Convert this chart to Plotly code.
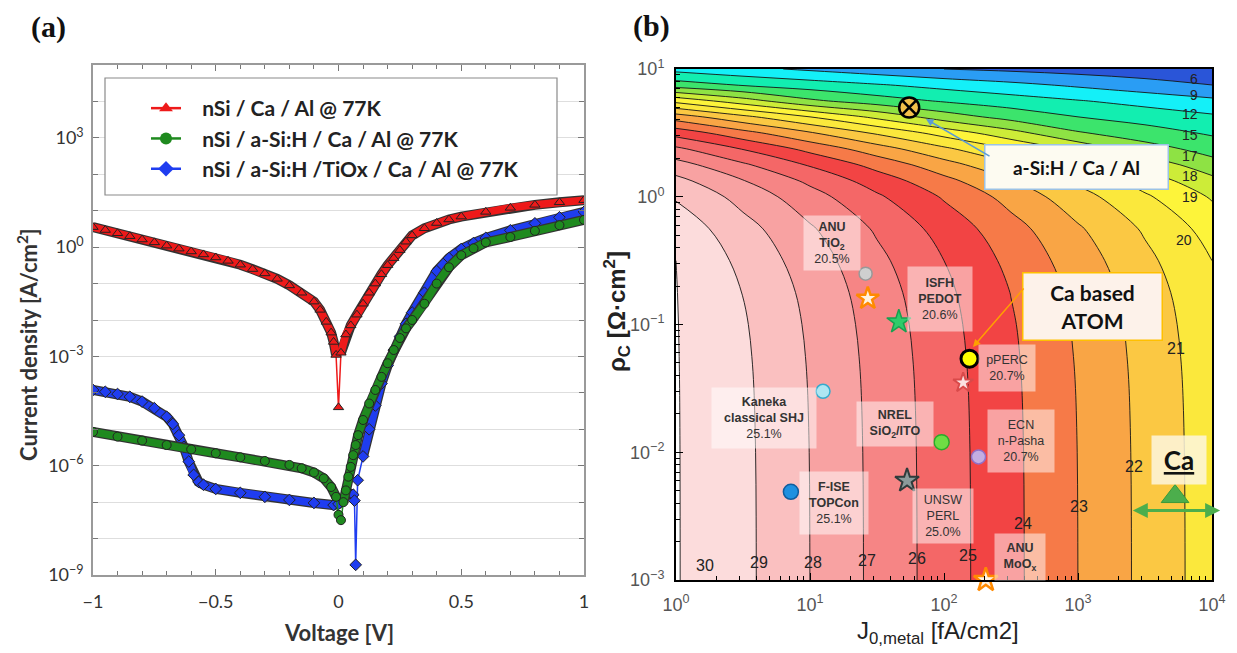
import numpy as np
import plotly.graph_objects as go

W, H = 1237, 653


def px(x):
    return x / W


def py(y):
    return 1 - y / H


# ---------------- Panel (a): J-V curves at 77 K ----------------
red_v = [-1.0, -0.95, -0.9, -0.85, -0.8, -0.75, -0.7, -0.65, -0.6, -0.55,
         -0.5, -0.45, -0.4, -0.35, -0.3, -0.25, -0.2, -0.15, -0.1, -0.075,
         -0.05, -0.03, -0.02, -0.01, 0.0, 0.01, 0.03, 0.05, 0.075, 0.1,
         0.125, 0.15, 0.175, 0.2, 0.225, 0.25, 0.275, 0.3, 0.35, 0.4,
         0.45, 0.5, 0.6, 0.7, 0.8, 0.9, 1.0]
red_j = [3.55, 2.95, 2.40, 2.0, 1.62, 1.35, 1.10, 0.91, 0.76, 0.63,
         0.52, 0.42, 0.33, 0.25, 0.19, 0.135, 0.089, 0.056, 0.032, 0.019,
         0.0089, 0.0045, 0.0025, 0.0011, 4.0e-5, 1.26e-3, 4.0e-3, 7.1e-3, 0.014, 0.028,
         0.056, 0.10, 0.18, 0.32, 0.50, 0.83, 1.41, 2.1, 3.3, 4.6,
         5.75, 6.9, 9.3, 12.0, 14.5, 17.0, 19.5]
red_dip_v = [0.0]

green_v = [-1.0, -0.9, -0.8, -0.7, -0.6, -0.5, -0.4, -0.3, -0.2, -0.15,
           -0.1, -0.06, -0.03, -0.01, 0.0, 0.01, 0.02, 0.03, 0.04, 0.05,
           0.06, 0.07, 0.08, 0.1, 0.125, 0.15, 0.175, 0.2, 0.225, 0.25,
           0.275, 0.3, 0.35, 0.4, 0.45, 0.5, 0.55, 0.6, 0.7, 0.8, 0.9, 1.0]
green_j = [8.5e-6, 6.3e-6, 4.9e-6, 3.7e-6, 2.8e-6, 2.2e-6, 1.7e-6, 1.35e-6, 1.05e-6, 8.5e-7,
           6.5e-7, 4.5e-7, 2.6e-7, 1.4e-7, 4.5e-8, 3.2e-8, 1.0e-7, 2.1e-7, 5.0e-7, 9.3e-7,
           1.95e-6, 3.7e-6, 6.9e-6, 1.8e-5, 5.1e-5, 1.2e-4, 2.75e-4, 6.5e-4, 1.5e-3, 3.2e-3,
           5.9e-3, 0.01, 0.028, 0.10, 0.28, 0.60, 0.93, 1.35, 1.9, 2.8, 4.0, 5.6]
green_dip_v = [0.0, 0.01]

blue_v = [-1.0, -0.95, -0.9, -0.85, -0.8, -0.75, -0.7, -0.675, -0.65, -0.63,
          -0.61, -0.59, -0.57, -0.55, -0.5, -0.4, -0.3, -0.2, -0.1, -0.02,
          0.0, 0.02, 0.04, 0.06, 0.065, 0.07, 0.078, 0.1, 0.125, 0.15,
          0.175, 0.2, 0.225, 0.25, 0.275, 0.3, 0.35, 0.4, 0.45, 0.5,
          0.55, 0.6, 0.7, 0.8, 0.9, 1.0]
blue_j = [1.2e-4, 1.07e-4, 9.3e-5, 7.8e-5, 5.75e-5, 3.8e-5, 2.2e-5, 1.4e-5, 6.9e-6, 3.3e-6,
          1.3e-6, 5.6e-7, 3.6e-7, 3.0e-7, 2.3e-7, 1.8e-7, 1.4e-7, 1.15e-7, 9.5e-8, 8.3e-8,
          8.9e-8, 1.26e-7, 1.8e-7, 1.6e-7, 1.1e-7, 1.9e-9, 4.0e-7, 1.8e-6, 1.0e-5, 4.5e-5,
          1.8e-4, 5.6e-4, 1.5e-3, 3.5e-3, 7.9e-3, 0.016, 0.056, 0.22, 0.5, 0.89,
          1.3, 1.8, 2.9, 4.5, 6.6, 9.3]
blue_dip_v = [0.065, 0.07, 0.078]

series_names = ["nSi / Ca / Al @ 77K",
                "nSi / a-Si:H / Ca / Al @ 77K",
                "nSi / a-Si:H /TiOx / Ca / Al @ 77K"]

# ---------------- Panel (b): efficiency map ----------------
j0_nodes = [1, 3.162, 10, 31.62, 100, 316.2, 1000, 3162, 10000]          # fA/cm2
e0_at_j0 = [30.5, 29.25, 28.0, 26.75, 25.5, 24.25, 23.0, 21.75, 20.5]      # % at negligible rho_c
rho_nodes = [0.001, 0.00316, 0.01, 0.0316, 0.0562, 0.1, 0.178, 0.316, 0.562,
             1.0, 1.33, 1.78, 2.37, 3.16, 4.22, 5.62, 7.5, 10.0]           # Ohm cm2
loss_at_rho = [0.002, 0.005, 0.015, 0.047, 0.085, 0.15, 0.27, 0.5, 0.88,
               1.6, 2.2, 3.1, 4.3, 5.9, 8.0, 10.8, 14.5, 19.5]             # % abs. loss
eff_levels = [6, 9, 12, 15, 17, 18, 19, 20, 21, 22, 23, 24, 25, 26, 27, 28, 29, 30]

pt_j0 = [55, 26, 27, 46, 155, 139, 12.5, 96, 181, 53, 7.2, 205, 5300]
pt_rho = [5.0, 0.25, 0.16, 0.105, 0.054, 0.035, 0.030, 0.012, 0.0092, 0.006, 0.0049, 0.001, 0.0045]
ca_j0_span = [2500, 11500]
ca_rho = 0.0035

# ---------------- styles ----------------
series_style = [
    dict(color="#ee1a1a", symbol="triangle-up"),
    dict(color="#1f8a1f", symbol="circle"),
    dict(color="#1f3df0", symbol="diamond"),
]
band_colors = ["#2a55d8", "#2a9df4", "#14f0f8", "#12eeb0", "#3ce46c", "#8ee244",
               "#cdec38", "#fdf43a", "#fbe83c", "#fbc843", "#f9a545", "#f67a48",
               "#f24444", "#f46767", "#f68585", "#f8a2a2", "#fac0c0", "#fcdcdc", "#ffffff"]
pt_style = [
    dict(symbol="circle-x", size=20, color="#f3c04a", line=dict(color="black", width=2.5)),
    dict(symbol="circle", size=13, color="#cfcfcf", line=dict(color="#999999", width=1.5)),
    dict(symbol="star", size=17, color="#fff2e0", line=dict(color="#ff8a00", width=2.5)),
    dict(symbol="star", size=18, color="#2fcc6a", line=dict(color="#18a050", width=1.5)),
    dict(symbol="circle", size=17, color="#ffff00", line=dict(color="black", width=3)),
    dict(symbol="star", size=15, color="#fbe0e0", line=dict(color="#d94a4a", width=2)),
    dict(symbol="circle", size=14, color="#aee6f2", line=dict(color="#35aacc", width=1.5)),
    dict(symbol="circle", size=15, color="#6fdd44", line=dict(color="#2aaa2a", width=1.5)),
    dict(symbol="circle", size=14, color="#c4ade2", line=dict(color="#9070c8", width=1.5)),
    dict(symbol="star", size=18, color="#8b9a9a", line=dict(color="#2f3b3b", width=2)),
    dict(symbol="circle", size=15, color="#1e90e0", line=dict(color="#105d9e", width=1.5)),
    dict(symbol="star", size=18, color="#fff2e0", line=dict(color="#ff8a00", width=2.5)),
    dict(symbol="triangle-up", size=24, color="#4cae4c", line=dict(color="#3a9a3a", width=1)),
]

fig = go.Figure()

# legend entries (panel a)
pad = "\u00a0\u00a0\u00a0"
for name, st in zip(series_names, series_style):
    fig.add_trace(go.Scatter(
        x=[None], y=[None], mode="lines+markers", name=pad + "<b>" + name + "</b>",
        legendgroup=name, line=dict(color=st["color"], width=2.5),
        marker=dict(symbol=st["symbol"], size=12, color=st["color"]),
        xaxis="x", yaxis="y"))

data_a = [(red_v, red_j, red_dip_v), (green_v, green_j, green_dip_v), (blue_v, blue_j, blue_dip_v)]
draw_order = [0, 2, 1]
for k in draw_order:
    v, j, dip = data_a[k]
    st = series_style[k]
    band_j = [None if vv in dip else jj for vv, jj in zip(v, j)]
    common = dict(xaxis="x", yaxis="y", showlegend=False, hoverinfo="skip",
                  legendgroup=series_names[k])
    fig.add_trace(go.Scatter(x=v, y=band_j, mode="lines", connectgaps=False,
                             line=dict(color="#333333", width=10), **common))
    fig.add_trace(go.Scatter(x=v, y=band_j, mode="lines", connectgaps=False,
                             line=dict(color=st["color"], width=7.5), **common))
    fig.add_trace(go.Scatter(x=v, y=j, mode="lines+markers",
                             line=dict(color=st["color"], width=1.5),
                             marker=dict(symbol=st["symbol"], size=9, color=st["color"],
                                         line=dict(color="#222", width=1)),
                             **common))

# efficiency map (panel b)
eff = np.array(e0_at_j0)[None, :] - np.array(loss_at_rho)[:, None]
lev_idx = np.interp(eff, [0] + eff_levels + [40],
                    [-1] + list(range(len(eff_levels))) + [len(eff_levels)])
nb = len(band_colors) - 1
fig.add_trace(go.Contour(
    x=j0_nodes, y=rho_nodes, z=lev_idx, xaxis="x2", yaxis="y2",
    autocontour=False,
    contours=dict(start=0, end=len(eff_levels) - 1, size=1, coloring="fill", showlabels=False),
    colorscale=[[i / nb, c] for i, c in enumerate(band_colors)],
    line=dict(color="#151515", width=0.9, smoothing=1.0),
    showscale=False, hoverinfo="skip", showlegend=False))

for jx, ry, st in zip(pt_j0, pt_rho, pt_style):
    fig.add_trace(go.Scatter(x=[jx], y=[ry], mode="markers", xaxis="x2", yaxis="y2",
                             marker=st, showlegend=False, hoverinfo="skip", cliponaxis=False))

# ---------------- layout ----------------
lato = "Lato, 'Open Sans', sans-serif"
arial = "'Liberation Sans', Arial, sans-serif"
sup = lambda p: "10<sup>" + ("\u2212" if p < 0 else "") + str(abs(p)) + "</sup>"

fig.update_layout(
    width=W, height=H, margin=dict(l=0, r=0, t=0, b=0, autoexpand=False),
    paper_bgcolor="white", plot_bgcolor="white", hovermode=False,
    showlegend=True,
    legend=dict(x=px(146), y=py(88), xanchor="left", yanchor="top",
                bgcolor="rgba(0,0,0,0)", borderwidth=0,
                font=dict(family=lato, size=21, color="#222"),
                traceorder="grouped", tracegroupgap=0),
    xaxis=dict(domain=[px(93), px(584)], range=[-1, 1], automargin=False,
               tickvals=[-1, -0.5, 0, 0.5, 1],
               ticktext=["\u22121", "\u22120.5", "0", "0.5", "1"],
               ticks="inside", ticklen=6, tickcolor="#777",
               minor=dict(dtick=0.1, ticks="inside", ticklen=4, tickcolor="#777"),
               showline=True, linecolor="#9a9a9a", linewidth=1.5, mirror="allticks",
               showgrid=False, zeroline=False, ticklabelstandoff=10,
               tickfont=dict(family=lato, size=18, color="#333")),
    yaxis=dict(domain=[py(575), py(65)], type="log", range=[-9, 5], automargin=False,
               tickvals=[1e-9, 1e-6, 1e-3, 1, 1e3],
               ticktext=[sup(-9), sup(-6), sup(-3), sup(0), sup(3)],
               ticks="inside", ticklen=6, tickcolor="#777",
               minor=dict(tickmode="linear", tick0=0, dtick=1, ticks="inside", ticklen=5,
                          tickcolor="#777", showgrid=True, gridcolor="#dedede", gridwidth=1),
               showgrid=True, gridcolor="#dedede",
               showline=True, linecolor="#9a9a9a", linewidth=1.5, mirror="allticks",
               zeroline=False, ticklabelstandoff=4,
               tickfont=dict(family=lato, size=18, color="#333")),
    xaxis2=dict(domain=[px(676), px(1212)], type="log", range=[0, 4], anchor="y2",
                automargin=False,
                tickvals=[1, 10, 100, 1000, 10000],
                ticktext=[sup(0), sup(1), sup(2), sup(3), sup(4)],
                ticks="inside", ticklen=7, tickcolor="black",
                minor=dict(tickmode="linear", tick0=0, dtick="D1", ticks="inside",
                           ticklen=4, tickcolor="black"),
                showline=True, linecolor="black", linewidth=2, mirror=True,
                showgrid=False, zeroline=False, ticklabelstandoff=7,
                tickfont=dict(family=arial, size=18, color="#555")),
    yaxis2=dict(domain=[py(580), py(69)], type="log", range=[-3, 1], anchor="x2",
                automargin=False,
                tickvals=[1e-3, 1e-2, 1e-1, 1, 10],
                ticktext=[sup(-3), sup(-2), sup(-1), sup(0), sup(1)],
                ticks="inside", ticklen=7, tickcolor="black",
                minor=dict(tickmode="linear", tick0=0, dtick="D1", ticks="inside",
                           ticklen=4, tickcolor="black"),
                showline=True, linecolor="black", linewidth=2, mirror=True,
                showgrid=False, zeroline=False, ticklabelstandoff=6,
                tickfont=dict(family=arial, size=18, color="#555")),
)

# legend frame (panel a)
fig.add_shape(type="rect", xref="paper", yref="paper",
              x0=px(105), x1=px(557), y0=py(195), y1=py(78),
              line=dict(color="#8a8a8a", width=1.2), fillcolor="white", layer="above")

ann = []
# panel labels and axis titles
ann.append(dict(text="<b>(a)</b>", x=px(48), y=py(27), font=dict(family="'Liberation Serif', serif", size=30, color="#111")))
ann.append(dict(text="<b>(b)</b>", x=px(651), y=py(26), font=dict(family="'Liberation Serif', serif", size=30, color="#111")))
ann.append(dict(text="<b>Voltage [V]</b>", x=px(339), y=py(632), font=dict(family=lato, size=22, color="#333")))
ann.append(dict(text="<b>Current density [A/cm<sup>2</sup>]</b>", x=px(27), y=py(345), textangle=-90,
                font=dict(family=lato, size=22, color="#333")))
ann.append(dict(text="J<sub>0,metal</sub> [fA/cm2]", x=px(938), y=py(632), font=dict(family=arial, size=24, color="#222")))
ann.append(dict(text="<b>\u03c1<sub>C</sub> [\u03a9\u00b7cm<sup>2</sup>]</b>", x=px(617), y=py(312), textangle=-90,
                font=dict(family=arial, size=24, color="#222")))

# contour level labels
lvl_labels = [("6", 1194, 79), ("9", 1194, 95), ("12", 1190, 114), ("15", 1190, 135),
              ("17", 1190, 156), ("18", 1190, 176), ("19", 1190, 197), ("20", 1184, 240),
              ("21", 1176, 348), ("22", 1134, 466), ("23", 1079, 506), ("24", 1023, 523),
              ("25", 968, 555), ("26", 917, 558), ("27", 867, 560), ("28", 813, 562),
              ("29", 759, 562), ("30", 705, 565)]
for t, x, y in lvl_labels:
    fs = 14 if y < 250 else 16
    ann.append(dict(text=t, x=px(x), y=py(y), font=dict(family=arial, size=fs, color="#222")))

# label boxes (kept clear of the markers)
soft = "rgba(255,255,255,0.5)"
boxes = [
    ("<b>ANU</b><br><b>TiO<sub>2</sub></b><br>20.5%", 832, 243, 54, 52),
    ("<b>ISFH</b><br><b>PEDOT</b><br>20.6%", 940, 299, 62, 62),
    ("<b>Kaneka</b><br><b>classical SHJ</b><br>25.1%", 764, 418, 102, 58),
    ("<b>NREL</b><br><b>SiO<sub>2</sub>/ITO</b>", 895, 424, 74, 42),
    ("<b>F-ISE</b><br><b>TOPCon</b><br>25.1%", 834, 503, 66, 60),
    ("UNSW<br>PERL<br>25.0%", 943, 516, 58, 52),
    ("ECN<br>n-Pasha<br>20.7%", 1021, 441, 64, 60),
    ("pPERC<br>20.7%", 1007, 368, 54, 44),
    ("<b>ANU</b><br><b>MoO<sub>x</sub></b>", 1020, 557, 48, 44),
]
for t, x, y, w, h in boxes:
    ann.append(dict(text=t, x=px(x), y=py(y), width=w, height=h, bgcolor=soft,
                    font=dict(family=arial, size=12.5, color="#333")))

ann.append(dict(text="<b>Ca based</b><br><b>ATOM</b>", x=px(1092), y=py(306), width=136, height=64,
                bgcolor="#fdf2ea", bordercolor="#ffc000", borderwidth=1.5,
                font=dict(family=lato, size=21, color="#111")))
ann.append(dict(text="<b>a-Si:H / Ca / Al</b>", x=px(1076), y=py(167), width=180, height=41,
                bgcolor="#fdfbf1", bordercolor="#9cc2e5", borderwidth=1.5,
                font=dict(family=lato, size=19, color="#111")))
ann.append(dict(text="<b><u>Ca</u></b>", x=px(1179), y=py(460), width=52, height=46,
                bgcolor="rgba(253,246,222,0.85)", font=dict(family=lato, size=26, color="#111")))

for a in ann:
    a.setdefault("xref", "paper")
    a.setdefault("yref", "paper")
    a.setdefault("showarrow", False)
    a.setdefault("xanchor", "center")
    a.setdefault("yanchor", "middle")

# arrows
ann.append(dict(text="", xref="paper", yref="paper", x=px(926), y=py(119), ax=65, ay=38,
                showarrow=True, arrowhead=2, arrowsize=1, arrowwidth=1.5, arrowcolor="#5b9bd5"))
ann.append(dict(text="", xref="paper", yref="paper", x=px(973), y=py(347), ax=52, ay=-60,
                showarrow=True, arrowhead=2, arrowsize=1, arrowwidth=1.5, arrowcolor="#ffa000"))
ann.append(dict(text="", xref="x2", yref="y2",
                x=np.log10(ca_j0_span[1]), y=np.log10(ca_rho),
                axref="x2", ayref="y2", ax=np.log10(ca_j0_span[0]), ay=np.log10(ca_rho),
                showarrow=True, arrowhead=2, arrowside="end+start", arrowsize=1,
                arrowwidth=3, arrowcolor="#4cae4c"))

fig.update_layout(annotations=ann)
fig.write_html("out.html", config={"displayModeBar": False},
               post_script="document.body.style.margin='0px';document.body.style.overflow='hidden';")
